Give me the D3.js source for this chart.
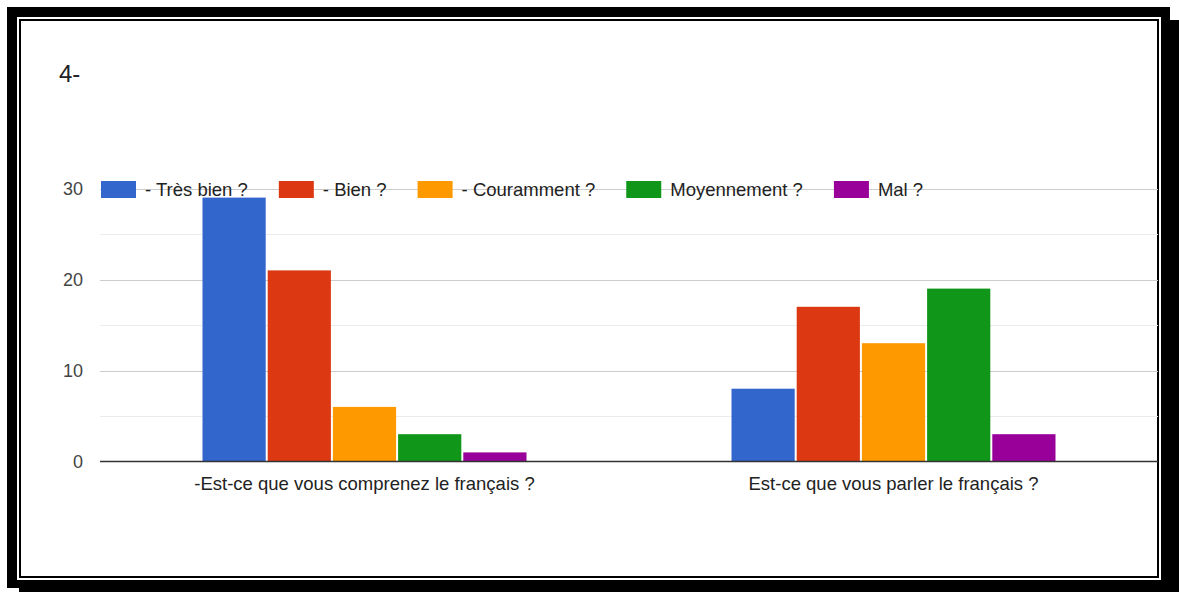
<!DOCTYPE html>
<html><head><meta charset="utf-8">
<script src="https://cdn.jsdelivr.net/npm/d3@7"></script>
<style>html,body{margin:0;padding:0;background:#fff;}svg{display:block;}</style>
</head><body>
<svg id="c" width="1179" height="592"></svg>
<script>
const title = "4-";
const categories = ["-Est-ce que vous comprenez le français ?", "Est-ce que vous parler le français ?"];
const seriesNames = ["- Très bien ?", "- Bien ?", "- Couramment ?", "Moyennement ?", "Mal ?"];
const seriesColors = ["#3366cc", "#dc3912", "#ff9900", "#109618", "#990099"];
const tresBien = [29, 8];
const bien = [21, 17];
const couramment = [6, 13];
const moyennement = [3, 19];
const mal = [1, 3];
const majorTicks = [0, 10, 20, 30];
const minorTicks = [5, 15, 25];

const seriesValues = [tresBien, bien, couramment, moyennement, mal];
const svg = d3.select("#c");
const font = "'Liberation Sans', Arial, sans-serif";

// frame
svg.append("rect").attr("x",7).attr("y",7).attr("width",1163).attr("height",581).attr("fill","#000");
svg.append("rect").attr("x",19).attr("y",20).attr("width",1160).attr("height",572).attr("fill","#000");
svg.append("rect").attr("x",17).attr("y",17).attr("width",1144).attr("height",563).attr("fill","#fff");
svg.append("rect").attr("x",20).attr("y",20).attr("width",1138).attr("height",557).attr("fill","#fff").attr("stroke","#000").attr("stroke-width",2);

svg.append("text").attr("x",59).attr("y",82).text(title)
  .attr("font-family",font).attr("font-size",24).attr("fill","#202124");

const left = 100, right = 1158;
const y = d3.scaleLinear().domain([0,30]).range([461.5,188.5]);
const x0 = d3.scaleBand().domain(categories).range([left,right]).padding(0);
const innerW = 326;
const x1 = d3.scaleBand().domain(seriesNames).range([0,innerW]).padding(0);

const g = svg.append("g");
g.selectAll("line.minor").data(minorTicks).join("line").attr("class","minor")
  .attr("x1",left).attr("x2",right).attr("y1",d=>Math.round(y(d))+0.5).attr("y2",d=>Math.round(y(d))+0.5)
  .attr("stroke","#ebebeb").attr("stroke-width",1);
g.selectAll("line.major").data(majorTicks.filter(d=>d>0)).join("line").attr("class","major")
  .attr("x1",left).attr("x2",right).attr("y1",d=>Math.round(y(d))+0.5).attr("y2",d=>Math.round(y(d))+0.5)
  .attr("stroke","#cccccc").attr("stroke-width",1);
g.selectAll("text.tick").data(majorTicks).join("text").attr("class","tick")
  .attr("x",83).attr("y",d=>y(d)+6).attr("text-anchor","end")
  .attr("font-family",font).attr("font-size",18).attr("fill","#444").text(d=>d);

// bars
const groups = g.selectAll("g.grp").data(categories).join("g")
  .attr("transform",d=>`translate(${x0(d)+(x0.bandwidth()-innerW)/2},0)`);
groups.selectAll("rect").data((c,ci)=>seriesNames.map((s,si)=>({s,si,v:seriesValues[si][ci]}))).join("rect")
  .attr("x",d=>x1(d.s)+1).attr("width",x1.bandwidth()-2)
  .attr("y",d=>y(d.v)).attr("height",d=>y(0)-y(d.v))
  .attr("fill",d=>seriesColors[d.si]);

// baseline
g.append("line").attr("x1",left).attr("x2",right).attr("y1",461.5).attr("y2",461.5)
  .attr("stroke","#333").attr("stroke-width",1.5);

// category labels
g.selectAll("text.cat").data(categories).join("text").attr("class","cat")
  .attr("x",d=>x0(d)+x0.bandwidth()/2).attr("y",490).attr("text-anchor","middle")
  .attr("font-family",font).attr("font-size",18.5).attr("fill","#222").text(d=>d);

// legend
const lg = svg.append("g");
let lx = 101;
seriesNames.forEach((s,i)=>{
  lg.append("rect").attr("x",lx).attr("y",181).attr("width",35).attr("height",17).attr("fill",seriesColors[i]);
  const t = lg.append("text").attr("x",lx+44).attr("y",196).text(s)
    .attr("font-family",font).attr("font-size",18.5).attr("fill","#222");
  const w = t.node().getComputedTextLength();
  lx = lx + 44 + w + 31;
});
</script>
</body></html>
